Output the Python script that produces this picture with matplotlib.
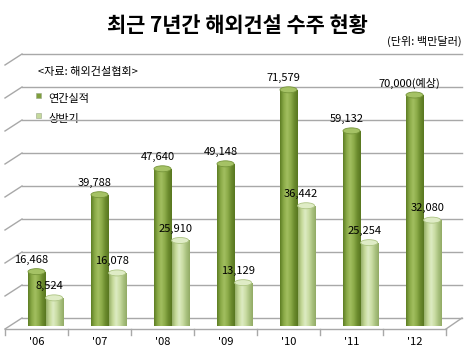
import numpy as np
import matplotlib.pyplot as plt
from matplotlib.patches import Rectangle, Ellipse
from matplotlib.colors import LinearSegmentedColormap

plt.rcParams['font.family'] = ['Noto Sans CJK KR', 'DejaVu Sans']

# Data (백만달러)
years = ["'06", "'07", "'08", "'09", "'10", "'11", "'12"]
annual = [16468, 39788, 47640, 49148, 71579, 59132, 70000]
half = [8524, 16078, 25910, 13129, 36442, 25254, 32080]
annual_labels = ["16,468", "39,788", "47,640", "49,148", "71,579", "59,132", "70,000(예상)"]
half_labels = ["8,524", "16,078", "25,910", "13,129", "36,442", "25,254", "32,080"]

W, H = 475, 354
fig = plt.figure(figsize=(W / 100, H / 100), dpi=100)
fig.patch.set_facecolor('white')

# axes: x from px 5 to 446, y=0 at px 326, 33 px per 10,000
ax = fig.add_axes([5 / W, (H - 326) / H, 441 / W, 264 / H])
ax.set_xlim(-0.5, 6.5)
ax.set_ylim(0, 80000)
ax.axis('off')


def dx(px):
    return px / 63.0


def dy(px):
    return px * 10000 / 33.0


grid_c = '#a8a8a8'
# back wall gridlines with perspective diagonal on the left
x_back0 = -0.5 + dx(17)
x_back1 = 6.5 + dx(16)
for v in range(0, 90000, 10000):
    yb = v + dy(8)
    ax.plot([x_back0, x_back1], [yb, yb], color=grid_c, lw=1.0, zorder=2, clip_on=False)
    ax.plot([-0.5, x_back0], [v - dy(3), yb], color=grid_c, lw=1.0, zorder=2, clip_on=False)

# floor front edge and right side
yf = -dy(3)
ax.plot([-0.5, 6.5], [yf, yf], color=grid_c, lw=1.0, zorder=2, clip_on=False)
ax.plot([6.5, x_back1], [yf, dy(8)], color=grid_c, lw=1.0, zorder=2, clip_on=False)
for xs in np.arange(-0.5, 7.0, 1.0):
    ax.plot([xs, xs], [yf, yf - dy(6)], color=grid_c, lw=1.0, zorder=2, clip_on=False)

dark_cmap = LinearSegmentedColormap.from_list(
    'dk', ['#5e7d24', '#8aaa47', '#a2bf60', '#8dac4a', '#6c8c2e', '#587720'])
light_cmap = LinearSegmentedColormap.from_list(
    'lt', ['#97b06a', '#c5d998', '#ddebc3', '#cadda4', '#aac280', '#92ab66'])
grad = np.linspace(0, 1, 64).reshape(1, -1)

bw = 0.27
ell_h = dy(6)


def cylinder(xc, val, cmap, top_c, rim_c):
    x0, x1 = xc - bw / 2, xc + bw / 2
    rect = Rectangle((x0, 0), bw, val, transform=ax.transData)
    im = ax.imshow(grad, cmap=cmap, extent=[x0, x1, 0, val], aspect='auto', zorder=4,
                   interpolation='bilinear')
    im.set_clip_path(rect)
    bot = Ellipse((xc, 0), bw, ell_h, transform=ax.transData)
    im2 = ax.imshow(grad, cmap=cmap, extent=[x0, x1, -ell_h / 2, ell_h / 2], aspect='auto',
                    zorder=4, interpolation='bilinear')
    im2.set_clip_path(bot)
    ax.add_patch(Ellipse((xc, val), bw, ell_h, facecolor=top_c, edgecolor=rim_c,
                         lw=0.6, zorder=5))


for i in range(len(years)):
    cylinder(i, annual[i], dark_cmap, '#a5c265', '#76953a')
    cylinder(i + 0.28, half[i], light_cmap, '#dfecc6', '#adc483')
    ax.text(i - dx(5), annual[i] + dy(12), annual_labels[i], ha='center', va='center',
            fontsize=8, color='black', zorder=6)
    ax.text(i + 0.28 - dx(5), half[i] + dy(12), half_labels[i], ha='center', va='center',
            fontsize=8, color='black', zorder=6)
    ax.text(i, -dy(16), years[i], ha='center', va='center', fontsize=8, color='black')

ax.set_xlim(-0.5, 6.5)
ax.set_ylim(0, 80000)

# titles and notes
fig.text(0.5, 1 - 25 / H, '최근 7년간 해외건설 수주 현황', ha='center', va='center',
         fontsize=15, fontweight='bold', color='black')
fig.text(462 / W, 1 - 41 / H, '(단위: 백만달러)', ha='right', va='center', fontsize=8)
ax.text(38 / W, 1 - 72 / H, '<자료: 해외건설협회>', transform=fig.transFigure,
        ha='left', va='center', fontsize=8, zorder=1)

# legend
for yy, col, lab in [(99, '#7f9f3c', '연간실적'), (119, '#c5d99c', '상반기')]:
    ax.add_patch(Rectangle((36 / W, 1 - (yy - 1) / H), 5 / W, 5 / H, transform=fig.transFigure,
                           facecolor=col, edgecolor='#9aa88a', lw=0.4, zorder=1, clip_on=False))
    ax.text(48 / W, 1 - yy / H, lab, transform=fig.transFigure, ha='left', va='center',
            fontsize=8, zorder=1)

fig.savefig('out.png', dpi=100)
